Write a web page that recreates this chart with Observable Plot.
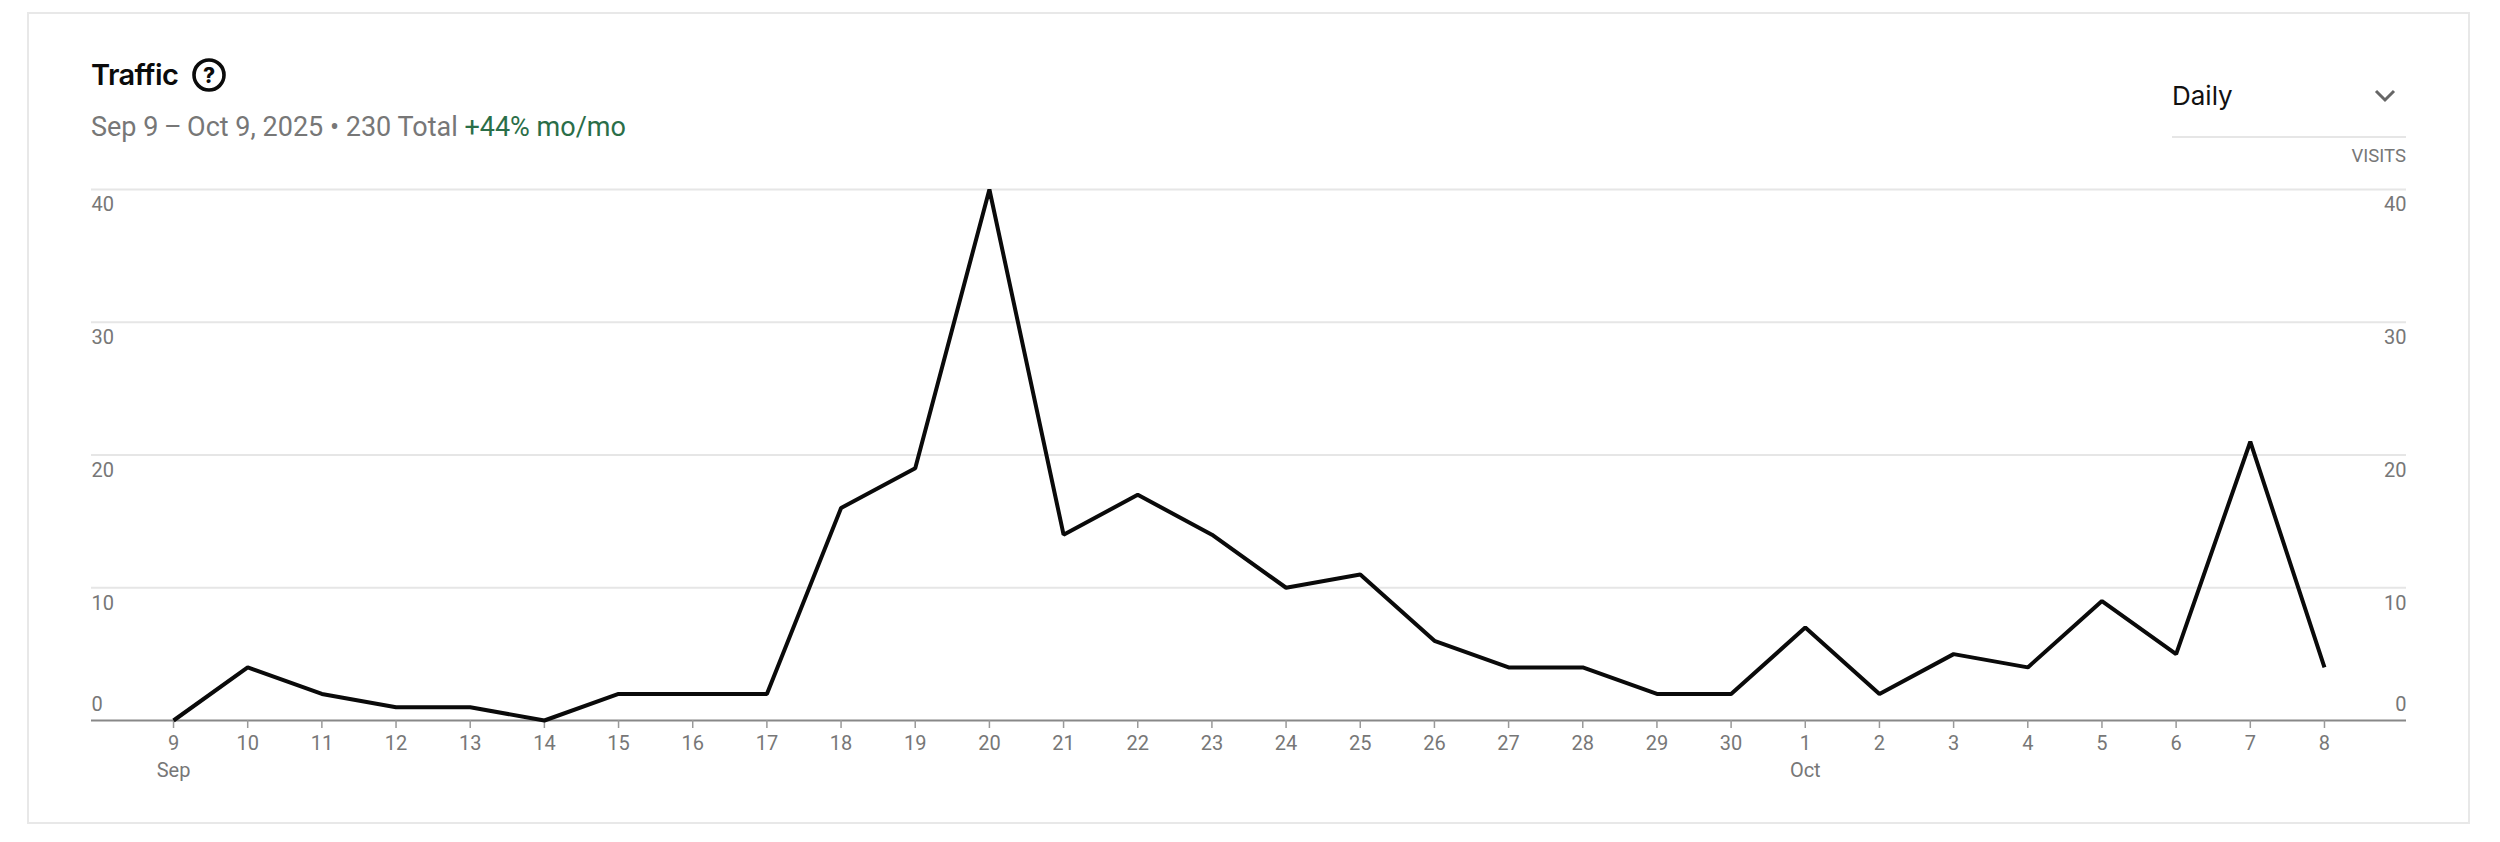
<!DOCTYPE html>
<html>
<head>
<meta charset="utf-8">
<script src="https://cdn.jsdelivr.net/npm/d3@7"></script>
<script src="https://cdn.jsdelivr.net/npm/@observablehq/plot@0.6"></script>
<style>
  html, body { margin: 0; padding: 0; background: #fff; }
  #page { position: relative; width: 2500px; height: 842px; overflow: hidden; font-family: Inter, Roboto, sans-serif; }
  #card { position: absolute; left: 27px; top: 12px; width: 2439px; height: 808px; border: 2px solid #e8e8e8; }
  .abs { position: absolute; white-space: nowrap; line-height: 1; }
  #title { left: 91px; top: 60px; font-size: 29px; font-weight: 600; color: #0b0b0b; letter-spacing: -0.6px; }
  #sub { left: 91px; top: 114px; font-size: 27px; color: #777; font-family: Roboto, sans-serif; }
  #sub span { color: #2a6e48; }
  #daily { left: 2172px; top: 83px; font-size: 26px; color: #111; }
  #rule { position: absolute; left: 2172px; top: 136px; width: 234px; height: 2px; background: #e6e6e6; }
  #visits { right: 94px; top: 147px; font-size: 18.5px; color: #777; font-family: Roboto, sans-serif; }
  #help { position: absolute; left: 192px; top: 58px; }
  #chev { position: absolute; left: 2374px; top: 88px; }
  #chart { position: absolute; left: 0; top: 169px; }
</style>
</head>
<body>
<div id="page">
  <div id="card"></div>
  <div id="title" class="abs">Traffic</div>
  <svg id="help" width="34" height="34" viewBox="0 0 34 34"><circle cx="17" cy="17" r="15" fill="none" stroke="#0b0b0b" stroke-width="3.6"/><text x="17" y="24.5" text-anchor="middle" font-family="Inter, sans-serif" font-weight="800" font-size="21" fill="#0b0b0b">?</text></svg>
  <div id="sub" class="abs">Sep 9&#8201;–&#8201;Oct 9, 2025 • 230 Total <span>+44% mo/mo</span></div>
  <div id="daily" class="abs">Daily</div>
  <svg id="chev" width="22" height="16" viewBox="0 0 22 16"><path d="M2 3 L11 12 L20 3" fill="none" stroke="#666" stroke-width="3"/></svg>
  <div id="rule"></div>
  <div id="visits" class="abs">VISITS</div>
  <div id="chart"></div>
</div>
<script>
const days = ["9","10","11","12","13","14","15","16","17","18","19","20","21","22","23","24","25","26","27","28","29","30","1","2","3","4","5","6","7","8"];
const visits = [0,4,2,1,1,0,2,2,2,16,19,40,14,17,14,10,11,6,4,4,2,2,7,2,5,4,9,5,21,4];
const gridValues = [10,20,30,40];
const yLabelsBelow = [10,20,30,40];
const yLabelsAbove = [0];
const monthDays = ["9","1"];
const monthNames = ["Sep","Oct"];

const tickColor = "#777";
const series = days.map((day, i) => ({day, visits: visits[i]}));
const months = monthDays.map((day, i) => ({day, name: monthNames[i]}));
const labelFont = {fontSize: 20, fill: tickColor};

const chart = Plot.plot({
  width: 2500,
  height: 640,
  marginTop: 20,
  marginBottom: 89,
  marginLeft: 91,
  marginRight: 94,
  style: {background: "transparent", fontFamily: "Roboto, sans-serif"},
  x: {type: "point", domain: days, padding: 1.106, align: 0.5, round: false, label: null, axis: null},
  y: {domain: [0, 40], label: null, axis: null},
  marks: [
    Plot.ruleY(gridValues, {stroke: "#e6e6e6", strokeWidth: 2}),
    Plot.ruleY([0], {stroke: "#888", strokeWidth: 2}),
    Plot.axisX({anchor: "bottom", tickSize: 8, tickPadding: 7, stroke: "#999", strokeWidth: 1.5, fontSize: 20, fill: tickColor, label: null, tickFormat: d => d}),
    Plot.text(months, {x: "day", text: "name", frameAnchor: "bottom", dy: 56, ...labelFont}),
    Plot.text(yLabelsBelow, {y: d => d, text: d => String(d), frameAnchor: "left", textAnchor: "start", dy: 15.5, ...labelFont}),
    Plot.text(yLabelsBelow, {y: d => d, text: d => String(d), frameAnchor: "right", textAnchor: "end", dy: 15.5, ...labelFont}),
    Plot.text(yLabelsAbove, {y: d => d, text: d => String(d), frameAnchor: "left", textAnchor: "start", dy: -16, ...labelFont}),
    Plot.text(yLabelsAbove, {y: d => d, text: d => String(d), frameAnchor: "right", textAnchor: "end", dy: -16, ...labelFont}),
    Plot.line(series, {x: "day", y: "visits", stroke: "#0a0a0a", strokeWidth: 4, curve: "linear", strokeLinejoin: "miter", strokeLinecap: "butt"})
  ]
});
document.getElementById("chart").appendChild(chart);
</script>
</body>
</html>
